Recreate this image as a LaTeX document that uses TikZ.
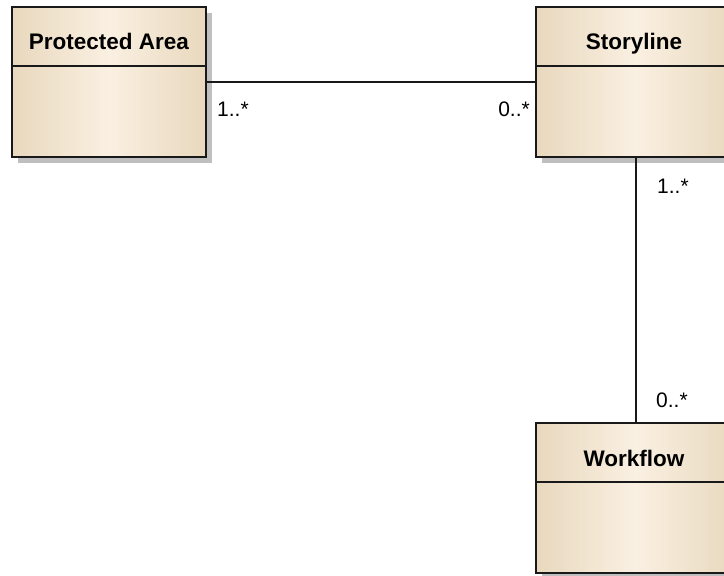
\documentclass[tikz,border=0pt]{standalone}
\usepackage{fontspec}
\setmainfont{Liberation Sans}
\usetikzlibrary{shadows}

\definecolor{tanedge}{RGB}{232,216,189}
\definecolor{tanmid}{RGB}{250,240,226}

\tikzset{
    classbox/.style={draw=black!90, line width=2pt, outer sep=0pt, inner sep=0pt,
        left color=tanedge, right color=tanedge, middle color=tanmid,
        minimum height=150pt,
        drop shadow={shadow xshift=6pt, shadow yshift=-6pt, fill=black!25, opacity=1}},
    classname/.style={font=\bfseries\fontsize{22.5}{25}\selectfont, anchor=base},
    mult/.style={font=\fontsize{21}{23}\selectfont, inner sep=0pt},
    assoc/.style={draw=black!90, line width=2pt}
}

\begin{document}
\begin{tikzpicture}[x=1pt, y=-1pt]

    \clip (0,0) rectangle (724,576);
    \fill[white] (0,0) rectangle (724,576);

	% Classes
    \node[classbox, minimum width=194pt] (area) at (109,82) {};
    \node[classbox, minimum width=200pt] (story) at (636,82) {};
    \node[classbox, minimum width=200pt] (flow) at (636,498) {};

    % Header lines
    \draw[line width=1.8pt, black!90] ([yshift=-59pt]area.north west) -- ([yshift=-59pt]area.north east);
    \draw[line width=1.8pt, black!90] ([yshift=-59pt]story.north west) -- ([yshift=-59pt]story.north east);
    \draw[line width=1.8pt, black!90] ([yshift=-59pt]flow.north west) -- ([yshift=-59pt]flow.north east);

    % Class names
    \node[classname] (areaname) at ([yshift=-42pt]area.north) {Protected Area};
    \node[classname] (storyname) at ([xshift=-2pt,yshift=-42pt]story.north) {Storyline};
    \node[classname] (flowname) at ([xshift=-2pt,yshift=-43pt]flow.north) {Workflow};

	% Associations
    \draw[assoc] (area.east) -- (story.west);
    \draw[assoc] (story.south) -- (flow.north);

    % Multiplicities
    \node[mult, anchor=base west] (areamult) at ([xshift=11pt,yshift=-34pt]area.east) {1..*};
    \node[mult, anchor=base east] (storymult) at ([xshift=-6pt,yshift=-34pt]story.west) {0..*};
    \node[mult, anchor=base west] (storydown) at ([xshift=21pt,yshift=-36pt]story.south) {1..*};
    \node[mult, anchor=base west] (flowmult) at ([xshift=20pt,yshift=16pt]flow.north) {0..*};

\end{tikzpicture}
\end{document}
